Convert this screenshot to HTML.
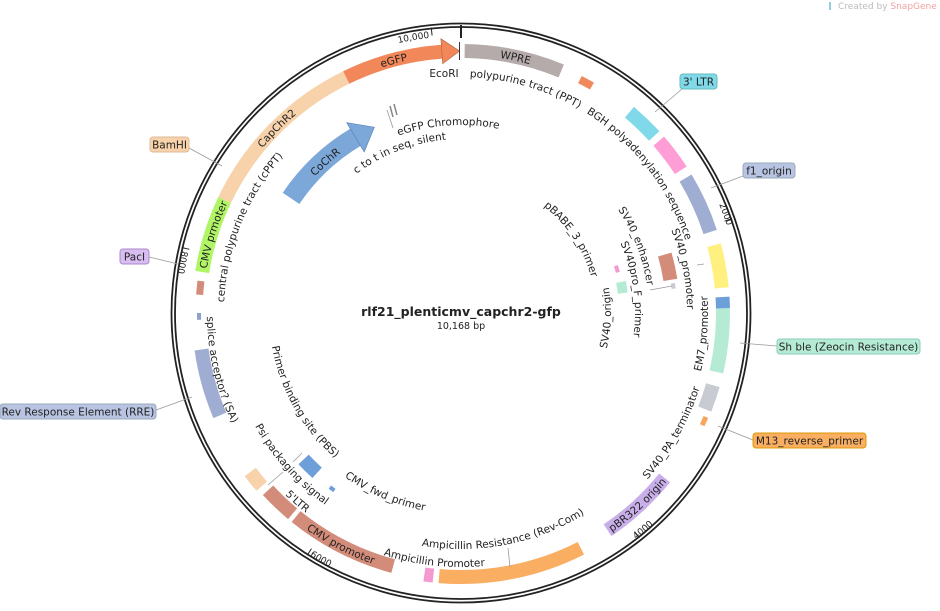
<!DOCTYPE html>
<html><head><meta charset="utf-8"><style>
html,body{margin:0;padding:0;background:#fff;overflow:hidden;width:940px;height:611px;}
svg{display:block;font-family:"DejaVu Sans","Liberation Sans",sans-serif;}
.l{font-size:10.5px;fill:#222;}
.n{font-size:9px;fill:#222;}
.f{fill:none;}
</style></head><body>
<svg width="940" height="611" viewBox="0 0 940 611" xmlns="http://www.w3.org/2000/svg">
<defs>
<path id="c258" d="M461,571 A258,258 0 1 1 461,55 A258,258 0 1 1 461,571"/>
<path id="c236" d="M461,549 A236,236 0 1 1 461,77 A236,236 0 1 1 461,549"/>
<path id="c237" d="M461,550 A237,237 0 1 1 461,76 A237,237 0 1 1 461,550"/>
<path id="c200" d="M461,513 A200,200 0 1 1 461,113 A200,200 0 1 1 461,513"/>
<path id="c188" d="M461,501 A188,188 0 1 1 461,125 A188,188 0 1 1 461,501"/>
<path id="c174" d="M461,487 A174,174 0 1 1 461,139 A174,174 0 1 1 461,487"/>
<path id="c135" d="M461,448 A135,135 0 1 1 461,178 A135,135 0 1 1 461,448"/>
<path id="c226" d="M461,539 A226,226 0 1 1 461,87 A226,226 0 1 1 461,539"/>
<path id="c277" d="M461,590 A277,277 0 1 1 461,36 A277,277 0 1 1 461,590"/>
<path id="c280" d="M461,593 A280,280 0 1 1 461,33 A280,280 0 1 1 461,593"/>
<path id="a150" d="M461,163 A150,150 0 1 0 461,463 A150,150 0 1 0 461,163"/>
<path id="a247" d="M461,66 A247,247 0 1 0 461,560 A247,247 0 1 0 461,66"/>
<path id="a250" d="M461,63 A250,250 0 1 0 461,563 A250,250 0 1 0 461,63"/>
<path id="a266" d="M461,47 A266,266 0 1 0 461,579 A266,266 0 1 0 461,47"/>
<path id="a236" d="M461,77 A236,236 0 1 0 461,549 A236,236 0 1 0 461,77"/>
<path id="a254" d="M461,59 A254,254 0 1 0 461,567 A254,254 0 1 0 461,59"/>
<path id="a253" d="M461,60 A253,253 0 1 0 461,566 A253,253 0 1 0 461,60"/>
<path id="a235" d="M461,78 A235,235 0 1 0 461,548 A235,235 0 1 0 461,78"/>
<path id="a192" d="M461,121 A192,192 0 1 0 461,505 A192,192 0 1 0 461,121"/>
<path id="a201" d="M461,112 A201,201 0 1 0 461,514 A201,201 0 1 0 461,112"/>
<path id="a286" d="M461,27 A286,286 0 1 0 461,599 A286,286 0 1 0 461,27"/>
</defs>

<rect x="829" y="2" width="2" height="8" fill="#9cd"/>
<text x="838" y="9" font-size="9" fill="#bbb">Created by <tspan fill="#f2a0a0">SnapGene</tspan></text>

<circle cx="461" cy="313" r="289.5" fill="none" stroke="#222" stroke-width="1.8"/>
<circle cx="461" cy="313" r="286" fill="none" stroke="#222" stroke-width="1.8"/>

<g stroke="#222" stroke-width="1">
<line x1="461" y1="25" x2="461" y2="38" stroke-width="2"/>
<line x1="432.1" y1="35.5" x2="431.2" y2="27.5"/>
<line x1="724.5" y1="221.2" x2="732" y2="218.6"/>
<line x1="634.3" y1="531.7" x2="639.3" y2="537.9"/>
<line x1="311.5" y1="548.6" x2="307.2" y2="555.3"/>
<line x1="189.4" y1="249.3" x2="181.6" y2="247.5"/>
</g>

<g class="f" stroke-width="14">
<circle cx="461" cy="313" r="262" stroke="#b5abab" stroke-dasharray="99.2 2000" transform="rotate(-89.2 461 313)"/>
<circle cx="461" cy="313" r="262" stroke="#f2875a" stroke-dasharray="99.7 2000" transform="rotate(-116 461 313)"/>
<circle cx="461" cy="313" r="262" stroke="#f8d2ab" stroke-dasharray="176.1 2000" transform="rotate(-154.5 461 313)"/>
<circle cx="461" cy="313" r="262" stroke="#b0f565" stroke-dasharray="75.5 2000" transform="rotate(-171 461 313)"/>
<circle cx="461" cy="313" r="262" stroke="#f08a5d" stroke-width="8" stroke-dasharray="13.7 2000" transform="rotate(-63 461 313)"/>
<circle cx="461" cy="313" r="262" stroke="#80d9e8" stroke-dasharray="34.3 2000" transform="rotate(-50 461 313)"/>
<circle cx="461" cy="313" r="262" stroke="#ff9dd6" stroke-dasharray="36.6 2000" transform="rotate(-41 461 313)"/>
<circle cx="461" cy="313" r="262" stroke="#9fadd3" stroke-dasharray="59.4 2000" transform="rotate(-31 461 313)"/>
<circle cx="461" cy="313" r="262" stroke="#fff080" stroke-dasharray="43.4 2000" transform="rotate(-15 461 313)"/>
<circle cx="461" cy="313" r="262" stroke="#6f9fd8" stroke-dasharray="11.4 2000" transform="rotate(-3.5 461 313)"/>
<circle cx="461" cy="313" r="262" stroke="#b5ebd5" stroke-dasharray="64 2000" transform="rotate(-1 461 313)"/>
<circle cx="461" cy="313" r="262" stroke="#c9cbd3" stroke-dasharray="25.2 2000" transform="rotate(16 461 313)"/>
<circle cx="461" cy="313" r="266" stroke="#f6a55c" stroke-width="5" stroke-dasharray="9.1 2000" transform="rotate(23 461 313)"/>
<circle cx="461" cy="313" r="262" stroke="#c9afe9" stroke-dasharray="77.7 2000" transform="rotate(39 461 313)"/>
<circle cx="461" cy="313" r="264" stroke="#f9ae62" stroke-dasharray="146.3 2000" transform="rotate(63 461 313)"/>
<circle cx="461" cy="313" r="264" stroke="#f59ad0" stroke-dasharray="9.1 2000" transform="rotate(96 461 313)"/>
<circle cx="461" cy="313" r="262" stroke="#d38b7a" stroke-dasharray="109.8 2000" transform="rotate(105 461 313)"/>
<circle cx="461" cy="313" r="262" stroke="#d38b7a" stroke-dasharray="34 2000" transform="rotate(130 461 313)"/>
<circle cx="461" cy="313" r="264" stroke="#f8d2ab" stroke-dasharray="18.3 2000" transform="rotate(139 461 313)"/>
<circle cx="461" cy="313" r="262" stroke="#9fadd3" stroke-dasharray="68.6 2000" transform="rotate(157 461 313)"/>
<circle cx="461" cy="313" r="262" stroke="#8fa0c8" stroke-width="4" stroke-dasharray="6.9 2000" transform="rotate(178.5 461 313)"/>
<circle cx="461" cy="313" r="262" stroke="#d38b7a" stroke-width="7" stroke-dasharray="13.7 2000" transform="rotate(184 461 313)"/>
</g>
<polygon points="440.9,38.7 442.7,63.7 459.6,51" fill="#f2875a" stroke="#b06040" stroke-width="0.6"/>
<line x1="459.5" y1="42" x2="459.5" y2="60" stroke="#333" stroke-width="1"/>

<g class="f">
<circle cx="461" cy="313" r="205" stroke="#7ba7d9" stroke-width="20" stroke-dasharray="89.5 2000" transform="rotate(-146 461 313)"/>
<circle cx="461" cy="313" r="215" stroke="#6e9fd8" stroke-width="14" stroke-dasharray="19 2000" transform="rotate(132 461 313)"/>
<circle cx="461" cy="313" r="218" stroke="#6e9fd8" stroke-width="4" stroke-dasharray="5.7 2000" transform="rotate(125.5 461 313)"/>
<circle cx="461" cy="313" r="212" stroke="#d38b7a" stroke-width="14" stroke-dasharray="26 2000" transform="rotate(-16 461 313)"/>
<circle cx="461" cy="313" r="214" stroke="#c9cbd3" stroke-width="4" stroke-dasharray="5.6 2000" transform="rotate(-8 461 313)"/>
<circle cx="461" cy="313" r="162" stroke="#f59ad0" stroke-width="4" stroke-dasharray="7.1 2000" transform="rotate(-17 461 313)"/>
<circle cx="461" cy="313" r="163" stroke="#b5ebd5" stroke-width="10" stroke-dasharray="11.4 2000" transform="rotate(-11 461 313)"/>
</g>
<polygon points="346.7,122.7 364.2,151.9 374.4,127.2" fill="#7ba7d9" stroke="#5a80b0" stroke-width="0.6"/>
<g stroke="#888" stroke-width="1.5">
<line x1="390" y1="106" x2="393" y2="117"/><line x1="394" y1="104" x2="397" y2="115"/>
</g>

<g stroke="#999" stroke-width="0.8">
<line x1="387" y1="110" x2="393" y2="128"/>
<line x1="682" y1="89" x2="655" y2="112"/>
<line x1="743" y1="176" x2="711" y2="188"/>
<line x1="777" y1="346" x2="740" y2="343"/>
<line x1="753" y1="440" x2="718" y2="426"/>
<line x1="156" y1="410" x2="192" y2="397"/>
<line x1="149" y1="257" x2="178" y2="264"/>
<line x1="189" y1="148" x2="222" y2="166"/>
<line x1="508" y1="548" x2="510" y2="567"/>
<line x1="293" y1="462" x2="302" y2="453"/>
<line x1="268" y1="485" x2="283" y2="472"/>
<line x1="697" y1="265" x2="704" y2="264"/>
<line x1="650" y1="290" x2="672" y2="286"/>
</g>

<g font-size="10.5" fill="#222" text-anchor="middle">
<rect x="680" y="74" width="37" height="15" rx="3" fill="#80d9e8" stroke="#6bb"/><text x="698.5" y="85.5">3' LTR</text>
<rect x="743" y="163" width="52" height="15" rx="3" fill="#b9c4e2" stroke="#9ab"/><text x="769" y="174.5">f1_origin</text>
<rect x="777" y="339" width="143" height="15" rx="3" fill="#b5ebd5" stroke="#8cb"/><text x="848.5" y="350.5">Sh ble (Zeocin Resistance)</text>
<rect x="753" y="433" width="113" height="15" rx="3" fill="#f9ae62" stroke="#d90"/><text x="809.5" y="444.5">M13_reverse_primer</text>
<rect x="0" y="404" width="156" height="15" rx="3" fill="#b9c4e2" stroke="#9ab"/><text x="78" y="415.5">Rev Response Element (RRE)</text>
<rect x="120" y="249" width="29" height="15" rx="3" fill="#d9bdf0" stroke="#a8c"/><text x="134.5" y="260.5">PacI</text>
<rect x="150" y="137" width="39" height="15" rx="3" fill="#f8d2ab" stroke="#db9"/><text x="169.5" y="148.5">BamHI</text>
</g>

<text x="461" y="316" text-anchor="middle" font-size="12.5" font-weight="bold" fill="#222">rlf21_plenticmv_capchr2-gfp</text>
<text x="461" y="329" text-anchor="middle" font-size="9.5" fill="#222">10,168 bp</text>
<text x="444" y="77" text-anchor="middle" class="l">EcoRI</text>

<g class="l" text-anchor="middle">
<text><textPath href="#c258" startOffset="864.6">WPRE</textPath></text>
<text><textPath href="#c258" startOffset="743">eGFP</textPath></text>
<text><textPath href="#c258" startOffset="607.9">CapChR2</textPath></text>
<text><textPath href="#c258" startOffset="484.1">CMV prmoter</textPath></text>
<text><textPath href="#c236" startOffset="807.3">polypurine tract (PPT)</textPath></text>
<text><textPath href="#c236" startOffset="955.6">BGH polyadenylation sequence</textPath></text>
<text><textPath href="#c237" startOffset="463.3">central polypurine tract (cPPT)</textPath></text>
<text><textPath href="#c200" startOffset="481.7">CoChR</textPath></text>
<text><textPath href="#c188" startOffset="577.5">eGFP Chromophore</textPath></text>
<text><textPath href="#c174" startOffset="482.9">c to t in seq, silent</textPath></text>
<text><textPath href="#c135" startOffset="556.5">pBABE_3_primer</textPath></text>
<text><textPath href="#c188" startOffset="817">SV40_enhancer</textPath></text>
<text><textPath href="#c174" startOffset="795.6">SV40pro_F_primer</textPath></text>
<text><textPath href="#c226" startOffset="1020.4">SV40_promoter</textPath></text>
<text><textPath href="#a150" startOffset="701.5">SV40_origin</textPath></text>
<text><textPath href="#a247" startOffset="1142.4">EM7_promoter</textPath></text>
<text><textPath href="#a250" startOffset="1048.5">SV40_PA_terminator</textPath></text>
<text><textPath href="#a266" startOffset="1033">pBR322 origin</textPath></text>
<text><textPath href="#a236" startOffset="786.4">Ampicillin Resistance (Rev-Com)</textPath></text>
<text><textPath href="#a254" startOffset="770.5">Ampicillin Promoter</textPath></text>
<text><textPath href="#a266" startOffset="708">CMV promoter</textPath></text>
<text><textPath href="#a253" startOffset="613.8">5'LTR</textPath></text>
<text><textPath href="#a235" startOffset="540.2">Psi packaging signal</textPath></text>
<text><textPath href="#a192" startOffset="400.5">Primer binding site (PBS)</textPath></text>
<text><textPath href="#a201" startOffset="551">CMV_fwd_primer</textPath></text>
<text><textPath href="#a254" startOffset="457.9">splice acceptor? (SA)</textPath></text>
</g>
<g class="n" text-anchor="middle">
<text><textPath href="#c277" startOffset="822.4">10,000</textPath></text>
<text><textPath href="#c280" startOffset="1218.8">2000</textPath></text>
<text><textPath href="#a286" startOffset="1097.7">4000</textPath></text>
<text><textPath href="#a286" startOffset="750.2">6000</textPath></text>
<text><textPath href="#a286" startOffset="397.8">8000</textPath></text>
</g>
</svg>
</body></html>
